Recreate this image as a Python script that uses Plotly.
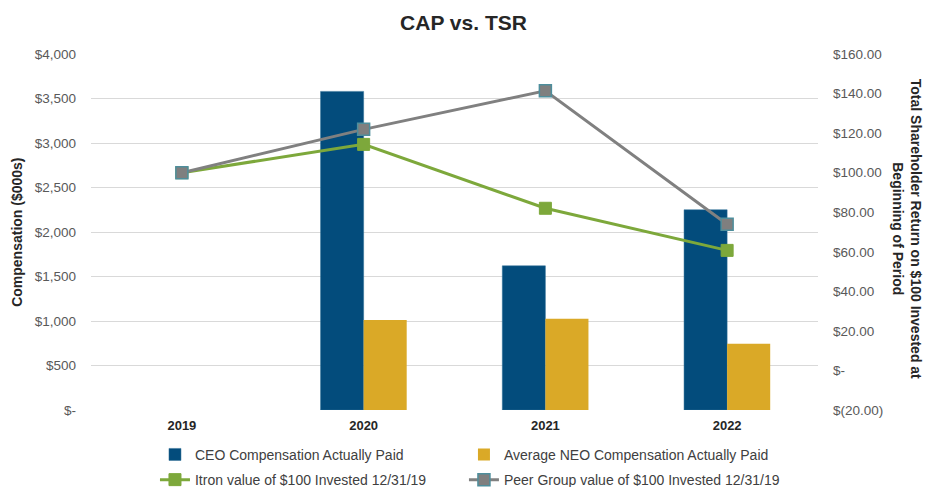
import plotly.graph_objects as go

# ── Data ──────────────────────────────────────────────────────────────────────
years = ["2019", "2020", "2021", "2022"]
ceo_cap = [None, 3580, 1620, 2250]      # $000s
neo_cap = [None, 1010, 1025, 745]       # $000s
itron_tsr = [100.0, 114.3, 82.0, 60.7]
peer_tsr = [100.0, 121.9, 141.4, 73.9]

left_ticks = [0, 500, 1000, 1500, 2000, 2500, 3000, 3500, 4000]
right_ticks = [-20, 0, 20, 40, 60, 80, 100, 120, 140, 160]


def usd0(v):
    return "$-" if v == 0 else f"${v:,.0f}"


def usd2(v):
    if v == 0:
        return "$-"
    if v < 0:
        return f"$({abs(v):,.2f})"
    return f"${v:,.2f}"


FONT = "Liberation Sans, Arial, sans-serif"
TICK_CLR = "#595959"
GRID = "#D9D9D9"

fig = go.Figure()

# left legend column: CEO + Itron ; right column: NEO + Peer
fig.add_trace(go.Bar(
    x=years, y=ceo_cap, name="CEO Compensation Actually Paid",
    marker=dict(color="#034C7C", line=dict(color="#2F6E96", width=0.5)),
    legend="legend", legendgroup="a",
))
fig.add_trace(go.Bar(
    x=years, y=neo_cap, name="Average NEO Compensation Actually Paid",
    marker=dict(color="#DAA927", line=dict(width=0)),
    legend="legend2", legendgroup="c",
))
fig.add_trace(go.Scatter(
    x=years, y=itron_tsr, yaxis="y2", mode="lines+markers",
    name="Itron value of $100 Invested 12/31/19",
    line=dict(color="#7DA83B", width=3),
    marker=dict(symbol="square", size=12, color="#7DA83B",
                line=dict(color="#7DA83B", width=1)),
    legend="legend", legendgroup="b",
))
fig.add_trace(go.Scatter(
    x=years, y=peer_tsr, yaxis="y2", mode="lines+markers",
    name="Peer Group value of $100 Invested 12/31/19",
    line=dict(color="#808080", width=3),
    marker=dict(symbol="square", size=12, color="#7F7F7F",
                line=dict(color="#4E8E9C", width=1.5)),
    legend="legend2", legendgroup="d",
))

leg_common = dict(
    orientation="v", y=-0.081, yanchor="top", xanchor="left",
    traceorder="grouped", tracegroupgap=4, itemwidth=30,
    font=dict(size=14, color="#404040"), bgcolor="rgba(0,0,0,0)",
)

fig.update_layout(
    width=927, height=487,
    margin=dict(l=91, r=109, t=54, b=77, autoexpand=False),
    paper_bgcolor="white", plot_bgcolor="white",
    font=dict(family=FONT, size=13, color=TICK_CLR),
    title=dict(
        text="CAP vs. TSR", x=0.5, xanchor="center",
        y=1 - 23 / 487, yanchor="middle", yref="container",
        font=dict(size=21, color="#262626", weight="bold"),
    ),
    barmode="group", bargap=0.526, bargroupgap=0,
    xaxis=dict(
        type="category", showgrid=False, zeroline=False, showline=False,
        tickfont=dict(size=13, color="#262626", weight="bold"),
        ticks="", ticklabelstandoff=6,
    ),
    yaxis=dict(
        range=[0, 4000], tickvals=left_ticks,
        ticktext=[usd0(v) for v in left_ticks],
        showgrid=True, gridcolor=GRID, gridwidth=1, zeroline=False,
        tickfont=dict(size=13.5, color=TICK_CLR), ticklabelstandoff=14,
    ),
    yaxis2=dict(
        overlaying="y", side="right", range=[-20, 160],
        tickvals=right_ticks, ticktext=[usd2(v) for v in right_ticks],
        showgrid=False, zeroline=False,
        tickfont=dict(size=13.5, color=TICK_CLR), ticklabelstandoff=14,
    ),
    legend=dict(x=0.088, **leg_common),
    legend2=dict(x=0.513, **leg_common),
    showlegend=True,
    annotations=[
        dict(
            text="Compensation ($000s)", textangle=-90,
            xref="paper", yref="paper", x=-0.102, y=0.5,
            xanchor="center", yanchor="middle", showarrow=False,
            font=dict(size=14, color="#262626", weight="bold"),
        ),
        dict(
            text="Total Shareholder Return on $100 Invested at<br>Beginning of Period",
            textangle=90, align="center",
            xref="paper", yref="paper", x=1.122, y=0.51,
            xanchor="center", yanchor="middle", showarrow=False,
            font=dict(size=14, color="#262626", weight="bold"),
        ),
    ],
)

# page body has a default 8px margin; drop it so the figure sits at 0,0
fig.write_html(
    "out.html",
    config={"displayModeBar": False},
    post_script="document.body.style.margin='0';",
)
